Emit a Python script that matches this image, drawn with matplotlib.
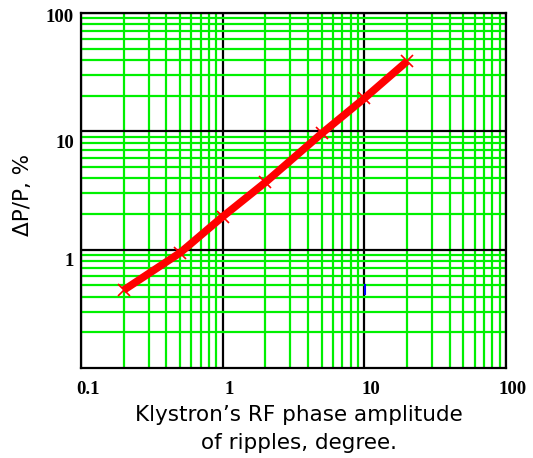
"""
Klystron RF phase ripple amplitude vs relative power variation (log-log)
"""
import numpy as np
import matplotlib
matplotlib.use('Agg')
import matplotlib.pyplot as plt
from matplotlib.ticker import LogLocator, NullFormatter, FixedLocator, FixedFormatter
from matplotlib.transforms import ScaledTranslation

# data
phase_deg = [0.2, 0.5, 1.0, 2.0, 5.0, 10.0, 20.0]
dp_over_p = [0.455, 0.94, 1.9, 3.7, 9.6, 19.0, 39.0]

# the small blue stroke near x=10
blue_x = [10.15, 10.15]
blue_y = [0.42, 0.50]

xticks = [0.1, 1, 10, 100]
xticklabels = ['0.1', '1', '10', '100']
yticks = [1, 10, 100]
yticklabels = ['1', '10', '100']

green = '#00f000'

fig = plt.figure(figsize=(5.33, 4.58), dpi=100)
ax = fig.add_axes([81/533, 1-368/458, 425/533, 355/458])
ax.set_xscale('log')
ax.set_yscale('log')
ax.set_xlim(0.1, 100)
ax.set_ylim(0.1, 100)

# grid: green minor, black major
ax.xaxis.set_minor_locator(LogLocator(base=10, subs=np.arange(2, 10)))
ax.yaxis.set_minor_locator(LogLocator(base=10, subs=np.arange(2, 10)))
ax.xaxis.set_minor_formatter(NullFormatter())
ax.yaxis.set_minor_formatter(NullFormatter())
ax.grid(which='minor', color=green, lw=1.6, zorder=1)
ax.grid(which='major', color='black', lw=1.6, zorder=2)
ax.set_axisbelow(True)

ax.plot(phase_deg, dp_over_p, color='red', lw=5.5, marker='x', ms=8, mew=1.2,
        solid_capstyle='butt', zorder=5)
ax.plot(blue_x, blue_y, color='blue', lw=1.5, zorder=4)

ax.xaxis.set_major_locator(FixedLocator(xticks))
ax.xaxis.set_major_formatter(FixedFormatter(xticklabels))
ax.yaxis.set_major_locator(FixedLocator(yticks))
ax.yaxis.set_major_formatter(FixedFormatter(yticklabels))
ax.tick_params(which='both', length=0)
ax.tick_params(axis='x', pad=9)
ax.tick_params(axis='y', pad=5)
for lab in ax.get_xticklabels():
    lab.set_fontfamily('Liberation Serif')
    lab.set_fontweight('bold')
    lab.set_fontsize(13.5)
    lab.set_transform(lab.get_transform() + ScaledTranslation(7/100, 0, fig.dpi_scale_trans))
for lab, dy in zip(ax.get_yticklabels(), [10, 10, 3]):
    lab.set_fontfamily('Liberation Serif')
    lab.set_fontweight('bold')
    lab.set_fontsize(13.5)
    lab.set_transform(lab.get_transform() + ScaledTranslation(0, -dy/100, fig.dpi_scale_trans))

for s in ax.spines.values():
    s.set_linewidth(1.6)
    s.set_color('black')
    s.set_zorder(6)

ax.set_ylabel('\u0394P/P, %', fontsize=15.5, family='DejaVu Sans')
ax.yaxis.set_label_coords(-0.113, 0.487)
ax.set_xlabel('Klystron\u2019s RF phase amplitude\nof ripples, degree.', fontsize=15.5,
              family='DejaVu Sans', linespacing=1.5)
ax.xaxis.set_label_coords(0.513, -0.104)

fig.savefig('out.png', dpi=100)
